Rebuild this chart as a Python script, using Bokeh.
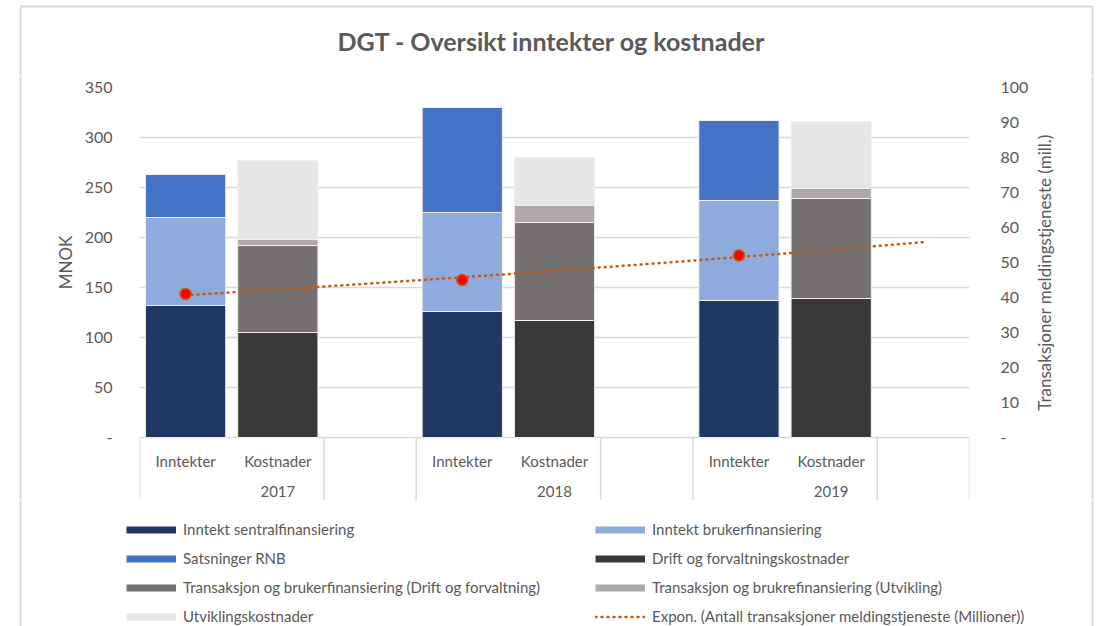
import numpy as np
from bokeh.plotting import figure
from bokeh.layouts import row, column
from bokeh.models import (Range1d, LinearAxis, FixedTicker, Legend, LegendItem,
                          ColumnDataSource)
from bokeh.core.properties import value
from bokeh.embed import file_html
from bokeh.resources import INLINE

# ---------------- data ----------------
years = ["2017", "2018", "2019"]
sub_labels = ["Inntekter", "Kostnader", ""]
inntekt_sentral = [132, 126, 137]
inntekt_bruker = [88, 99, 100]
satsninger_rnb = [43, 105, 80]
drift_forvaltning = [105, 117, 139]
trans_drift = [87, 98, 100]
trans_utvikling = [6, 17, 10]
utviklingskostnader = [79, 48, 67]
transaksjoner_mill = [41, 45, 52]
left_ticks = [0, 50, 100, 150, 200, 250, 300, 350]
right_ticks = [0, 10, 20, 30, 40, 50, 60, 70, 80, 90, 100]

title_text = "DGT - Oversikt inntekter og kostnader"
left_title = "MNOK"
right_title = "Transaksjoner meldingstjeneste (mill.)"
names_inn = ["Inntekt sentralfinansiering", "Inntekt brukerfinansiering", "Satsninger RNB"]
names_kost = ["Drift og forvaltningskostnader",
              "Transaksjon og brukerfinansiering (Drift og forvaltning)",
              "Transaksjon og brukrefinansiering (Utvikling)", "Utviklingskostnader"]
trend_name = "Expon. (Antall transaksjoner meldingstjeneste (Millioner))"

# ---------------- style ----------------
FONT = "Lato"
TXT = "#595959"
GRID = "#d9d9d9"
BORDER = "#d9d9d9"
col_inn = ["#203864", "#8FAADC", "#4472C4"]
col_kost = ["#3B3838", "#767171", "#AEAAAA", "#E7E6E6"]
TREND = "#C55A11"
TREND_STYLE = dict(line_color=TREND, line_width=2.5, line_dash="1 5", line_cap="round")

W, H = 1099, 626
TOP_H = 75
MAIN_H = 425
BOT_H = H - TOP_H - MAIN_H
L_W = 80
MAIN_W = 951
R_W = W - L_W - MAIN_W

categories = [(y, s) for y in years for s in sub_labels]
n = len(categories)
pos = {c: i + 0.5 for i, c in enumerate(categories)}

Y_TOP = 350
TABLE = 63
RATIO = 3.5


def blank(w, h):
    f = figure(width=w, height=h, x_range=Range1d(0, w), y_range=Range1d(0, h),
               title=None, output_backend="svg", toolbar_location=None, min_border=0,
               min_border_left=0, min_border_right=0, min_border_top=0, min_border_bottom=0,
               x_axis_location=None, y_axis_location=None, frame_align=False)
    f.grid.visible = False
    f.outline_line_color = None
    f.background_fill_color = "white"
    f.border_fill_color = "white"
    return f


# ---------------- main plot ----------------
p = figure(width=MAIN_W, height=MAIN_H, title=None, output_backend="svg",
           toolbar_location=None, frame_align=False,
           x_range=Range1d(0, n), y_range=Range1d(-TABLE, Y_TOP),
           x_axis_location=None,
           min_border_left=59, min_border_right=56, min_border_top=12, min_border_bottom=0)
p.extra_y_ranges = {"right": Range1d(-TABLE / RATIO, Y_TOP / RATIO)}
p.outline_line_color = None
p.background_fill_color = "white"
p.border_fill_color = "white"

p.xgrid.grid_line_color = None
p.ygrid.ticker = FixedTicker(ticks=left_ticks[1:])
p.ygrid.grid_line_color = GRID
p.ygrid.grid_line_width = 1.3

ax = p.yaxis[0]
ax.ticker = FixedTicker(ticks=left_ticks)
ax.major_label_overrides = {0: "-"}
ax.axis_line_color = None
ax.major_tick_line_color = None
ax.minor_tick_line_color = None
ax.major_label_text_font = FONT
ax.major_label_text_font_size = "16px"
ax.major_label_text_color = TXT
ax.major_label_standoff = 21

rax = LinearAxis(y_range_name="right", ticker=FixedTicker(ticks=right_ticks))
rax.major_label_overrides = {0: "-"}
rax.axis_line_color = None
rax.major_tick_line_color = None
rax.minor_tick_line_color = None
rax.major_label_text_font = FONT
rax.major_label_text_font_size = "16px"
rax.major_label_text_color = TXT
rax.major_label_standoff = 25
p.add_layout(rax, "right")

# category table
blank_idx = [i for i, c in enumerate(categories) if c[1] == ""]
bounds = sorted(set([0] + blank_idx + [i + 1 for i in blank_idx]))
p.segment(x0=[0], y0=[0], x1=[n], y1=[0], line_color=GRID, line_width=1.5)
p.segment(x0=bounds, y0=[0] * len(bounds), x1=bounds, y1=[-TABLE] * len(bounds),
          line_color=GRID, line_width=1.5)
sub_cats = [c for c in categories if c[1]]
p.text(x=[pos[c] for c in sub_cats], y=[-23] * len(sub_cats), text=[c[1] for c in sub_cats],
       text_align="center", text_baseline="middle", text_font=value(FONT),
       text_font_size="15px", text_color=TXT)
year_x = [float(np.mean([pos[c] for c in categories if c[0] == y])) for y in years]
p.text(x=year_x, y=[-54] * len(years), text=years,
       text_align="center", text_baseline="middle", text_font=value(FONT),
       text_font_size="15px", text_color=TXT)

# bars
src_inn = ColumnDataSource(dict(x=[pos[(y, "Inntekter")] for y in years],
                                a=inntekt_sentral, b=inntekt_bruker, c=satsninger_rnb))
p.vbar_stack(["a", "b", "c"], x="x", width=0.87, source=src_inn,
             fill_color=col_inn, line_color="#f0f0f0", line_width=1)
src_k = ColumnDataSource(dict(x=[pos[(y, "Kostnader")] for y in years],
                              a=drift_forvaltning, b=trans_drift, c=trans_utvikling,
                              d=utviklingskostnader))
p.vbar_stack(["a", "b", "c", "d"], x="x", width=0.87, source=src_k,
             fill_color=col_kost, line_color="#f0f0f0", line_width=1)

# exponential trendline (fitted on 1-based category index, like Excel)
xi = np.array([categories.index((y, "Inntekter")) + 1 for y in years], dtype=float)
b, a = np.polyfit(xi, np.log(transaksjoner_mill), 1)
xt = np.linspace(1, n, 200)
yt = np.exp(a + b * xt)
p.line(xt - 0.5, yt, y_range_name="right", **TREND_STYLE)
p.scatter(x=[pos[(y, "Inntekter")] for y in years], y=transaksjoner_mill, y_range_name="right",
          size=11, fill_color="#FF0000", line_color=TREND, line_width=1.5)

# ---------------- title strip ----------------
top = blank(W, TOP_H)
top.text(x=[551], y=[TOP_H - 40], text=[title_text], text_align="center",
         text_baseline="middle", text_font=value(FONT), text_font_size="25px",
         text_font_style="bold", text_color=TXT)
top.segment(x0=[20, 20, 1092], y0=[TOP_H - 6, TOP_H - 6, TOP_H - 6],
            x1=[1092, 20, 1092], y1=[TOP_H - 6, 0, 0], line_color=BORDER, line_width=2)

# ---------------- left / right strips ----------------
lf = blank(L_W, MAIN_H)
lf.text(x=[65], y=[MAIN_H - (262 - TOP_H)], text=[left_title], angle=np.pi / 2,
        text_align="center", text_baseline="middle", text_font=value(FONT),
        text_font_size="17px", text_color=TXT)
lf.segment(x0=[20], y0=[0], x1=[20], y1=[MAIN_H], line_color=BORDER, line_width=2)

rf = blank(R_W, MAIN_H)
rx0 = L_W + MAIN_W
rf.text(x=[1044 - rx0], y=[MAIN_H - (272 - TOP_H)], text=[right_title], angle=np.pi / 2,
        text_align="center", text_baseline="middle", text_font=value(FONT),
        text_font_size="17px", text_color=TXT)
rf.segment(x0=[1092 - rx0], y0=[0], x1=[1092 - rx0], y1=[MAIN_H], line_color=BORDER,
           line_width=2)

# ---------------- legend strip ----------------
bot = blank(W, BOT_H)
bot.segment(x0=[20, 1092], y0=[0, 0], x1=[20, 1092], y1=[BOT_H, BOT_H], line_color=BORDER,
            line_width=2)
prox = {}
for nm, c in zip(names_inn + names_kost, col_inn + col_kost):
    prox[nm] = bot.line(x=[np.nan, np.nan], y=[np.nan, np.nan], line_color=c, line_width=7)
prox[trend_name] = bot.line(x=[np.nan, np.nan], y=[np.nan, np.nan], **TREND_STYLE)

leg_kw = dict(label_text_font=FONT, label_text_font_size="15px", label_text_color=TXT,
              glyph_width=50, glyph_height=17, label_height=17, label_standoff=7,
              spacing=11, padding=0, margin=0, border_line_color=None,
              background_fill_alpha=0)
col1 = [names_inn[0], names_inn[2], names_kost[1], names_kost[3]]
col2 = [names_inn[1], names_kost[0], names_kost[2], trend_name]
items1 = [LegendItem(label=nm, renderers=[prox[nm]]) for nm in col1]
items2 = [LegendItem(label=nm, renderers=[prox[nm]]) for nm in col2]
bot.add_layout(Legend(items=items1, location=(126, 1), **leg_kw), "center")
bot.add_layout(Legend(items=items2, location=(595, 1), **leg_kw), "center")

layout = column(top, row(lf, p, rf), bot)
open("out.html", "w").write(file_html(layout, INLINE))
